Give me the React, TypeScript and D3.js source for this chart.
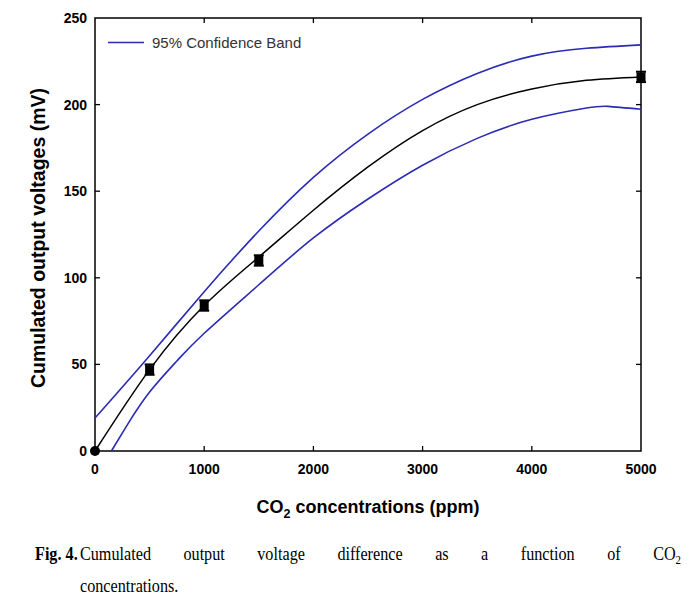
import { useLayoutEffect, useMemo, useRef } from "react";
import * as d3 from "d3";

const WIDTH = 697;
const HEIGHT = 606;
const MARGIN = { top: 18, right: 56, bottom: 155, left: 95 };

// measured points (ppm, mV)
const concX = [0, 500, 1000, 1500, 5000];
const concY = [0, 47, 84, 110, 216];
const concErr = [0, 3, 3, 3, 3];

// fitted curve
const fitX = [0, 500, 1000, 1500, 2000, 2500, 3000, 3500, 4000, 4500, 5000];
const fitY = [0, 47, 84, 112, 139, 164, 185, 200, 209, 214, 216];

// 95% confidence band
const upperX = [0, 500, 1000, 1500, 2000, 2500, 3000, 3500, 4000, 4500, 5000];
const upperY = [19, 55, 92, 127, 158, 183, 203, 218, 228, 232.5, 234.5];
const lowerX = [150, 300, 500, 750, 1000, 1500, 2000, 2500, 3000, 3500, 4000, 4500, 4700, 5000];
const lowerY = [0, 15.5, 34, 52, 68, 96, 123, 145.5, 165, 180.5, 191.5, 198, 199, 197.3];

const xTicks = [0, 1000, 2000, 3000, 4000, 5000];
const yTicks = [0, 50, 100, 150, 200, 250];

const BLUE = "#2b2bb5";
const SANS = "'Liberation Sans', Arial, sans-serif";
const SERIF = "'Liberation Serif', 'Times New Roman', serif";
const CAP_SCALE = 0.83;

export default function App() {
  const capRef = useRef<SVGTextElement>(null);
  const boundsWidth = WIDTH - MARGIN.left - MARGIN.right;
  const boundsHeight = HEIGHT - MARGIN.top - MARGIN.bottom;

  const xScale = useMemo(
    () => d3.scaleLinear().domain([0, 5000]).range([0, boundsWidth]),
    [boundsWidth]
  );
  const yScale = useMemo(
    () => d3.scaleLinear().domain([0, 250]).range([boundsHeight, 0]),
    [boundsHeight]
  );

  const line = d3
    .line<[number, number]>()
    .x((d) => xScale(d[0]))
    .y((d) => yScale(d[1]))
    .curve(d3.curveNatural);

  const fitPath = line(fitX.map((x, i) => [x, fitY[i]]));
  const upperPath = line(upperX.map((x, i) => [x, upperY[i]]));
  const lowerPath = line(lowerX.map((x, i) => [x, lowerY[i]]));

  // justify the first caption line like the printed figure
  useLayoutEffect(() => {
    const t = capRef.current;
    if (!t) return;
    t.setAttribute("word-spacing", "0");
    const natural = t.getComputedTextLength();
    const target = (681 - 80) / CAP_SCALE;
    const spaces = (t.textContent ?? "").trim().split(/\s+/).length - 1;
    t.setAttribute("word-spacing", String(Math.max(0, (target - natural) / spaces)));
  }, []);

  const TICK = 5;

  return (
    <svg
      width={WIDTH}
      height={HEIGHT}
      style={{ position: "absolute", left: 0, top: 0, background: "#fff" }}
    >
      <g transform={`translate(${MARGIN.left}, ${MARGIN.top})`}>
        {/* frame */}
        <rect
          x={0}
          y={0}
          width={boundsWidth}
          height={boundsHeight}
          fill="none"
          stroke="#000"
          strokeWidth={1.5}
        />
        {/* inward ticks on all sides */}
        {xTicks.slice(1, -1).map((t) => (
          <g key={"xt" + t}>
            <line x1={xScale(t)} x2={xScale(t)} y1={boundsHeight} y2={boundsHeight - TICK} stroke="#000" strokeWidth={1.3} />
            <line x1={xScale(t)} x2={xScale(t)} y1={0} y2={TICK} stroke="#000" strokeWidth={1.3} />
          </g>
        ))}
        {yTicks.slice(1, -1).map((t) => (
          <g key={"yt" + t}>
            <line x1={0} x2={TICK} y1={yScale(t)} y2={yScale(t)} stroke="#000" strokeWidth={1.3} />
            <line x1={boundsWidth} x2={boundsWidth - TICK} y1={yScale(t)} y2={yScale(t)} stroke="#000" strokeWidth={1.3} />
          </g>
        ))}
        {/* tick labels */}
        {xTicks.map((t) => (
          <text
            key={"xl" + t}
            x={xScale(t)}
            y={boundsHeight + 23}
            textAnchor="middle"
            fontFamily={SANS}
            fontWeight="bold"
            fontSize={14}
          >
            {t}
          </text>
        ))}
        {yTicks.map((t) => (
          <text
            key={"yl" + t}
            x={-8}
            y={yScale(t) + 5}
            textAnchor="end"
            fontFamily={SANS}
            fontWeight="bold"
            fontSize={14}
          >
            {t}
          </text>
        ))}

        {/* confidence band */}
        <path d={upperPath ?? ""} fill="none" stroke={BLUE} strokeWidth={1.6} />
        <path d={lowerPath ?? ""} fill="none" stroke={BLUE} strokeWidth={1.6} />
        {/* fit */}
        <path d={fitPath ?? ""} fill="none" stroke="#000" strokeWidth={1.5} />

        {/* data points with error bars */}
        {concX.map((x, i) => {
          const cx = xScale(x);
          const cy = yScale(concY[i]);
          const top = yScale(concY[i] + concErr[i]);
          const bot = yScale(concY[i] - concErr[i]);
          if (i === 0) {
            return <circle key={i} cx={cx} cy={cy} r={5} fill="#000" />;
          }
          return (
            <g key={i}>
              <line x1={cx} x2={cx} y1={top} y2={bot} stroke="#000" strokeWidth={1.5} />
              <line x1={cx - 5} x2={cx + 5} y1={top} y2={top} stroke="#000" strokeWidth={2} />
              <line x1={cx - 5} x2={cx + 5} y1={bot} y2={bot} stroke="#000" strokeWidth={2} />
              <rect x={cx - 4.5} y={cy - 4.5} width={9} height={9} fill="#000" />
            </g>
          );
        })}

        {/* legend */}
        <line x1={13} x2={49} y1={24.5} y2={24.5} stroke={BLUE} strokeWidth={1.6} />
        <text x={57} y={29.5} fontFamily={SANS} fontSize={15} fill="#333">
          95% Confidence Band
        </text>
      </g>

      {/* axis titles */}
      <text
        x={MARGIN.left + boundsWidth / 2}
        y={513}
        textAnchor="middle"
        fontFamily={SANS}
        fontWeight="bold"
        fontSize={18}
      >
        CO
        <tspan fontSize={12.5} dy={5}>2</tspan>
        <tspan dy={-5}> concentrations (ppm)</tspan>
      </text>
      <text
        transform="translate(45, 238) rotate(-90)"
        textAnchor="middle"
        fontFamily={SANS}
        fontWeight="bold"
        fontSize={19.5}
      >
        Cumulated output voltages (mV)
      </text>

      {/* caption */}
      <g transform={`scale(${CAP_SCALE}, 1)`} fontFamily={SERIF} fontSize={19.5}>
        <text x={35 / CAP_SCALE} y={560} fontWeight="bold">
          Fig. 4.
        </text>
        <text ref={capRef} x={80 / CAP_SCALE} y={560}>
          Cumulated output voltage difference as a function of CO
          <tspan fontSize={13} dy={4}>2</tspan>
        </text>
        <text x={80 / CAP_SCALE} y={592}>
          concentrations.
        </text>
      </g>
    </svg>
  );
}
